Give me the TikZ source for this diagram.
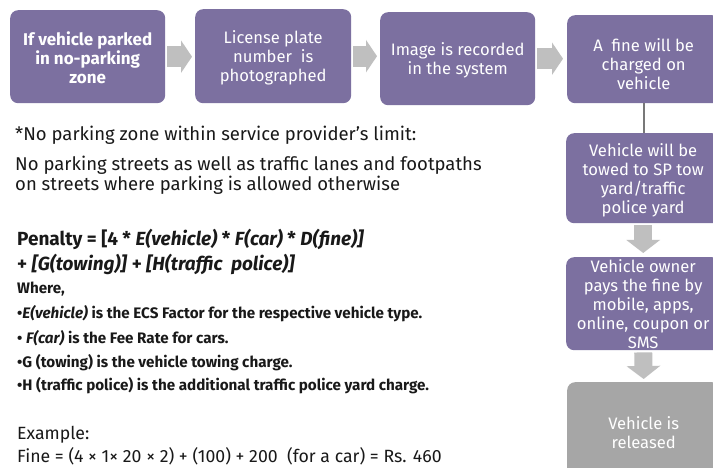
\documentclass[tikz,border=0pt]{standalone}
\usepackage{fontspec}
\setmainfont{Fira Sans}
\usetikzlibrary{arrows.meta}
\definecolor{boxpurple}{RGB}{124,112,160}
\definecolor{arrowgray}{RGB}{191,191,191}
\definecolor{boxgray}{RGB}{166,166,166}
\definecolor{linegray}{RGB}{120,120,120}
\definecolor{txt}{RGB}{25,25,25}
\begin{document}
\begin{tikzpicture}[x=1pt,y=-1pt,
  stepbox/.style={fill=boxpurple, rounded corners=8pt, anchor=north west, inner sep=0pt,
    text=white, align=center, font=\fontsize{16.6}{19}\selectfont},
  endbox/.style={stepbox, fill=boxgray},
  harrow/.style={draw=arrowgray, line width=21pt, -{Triangle[length=11pt,width=32pt]}},
  varrow/.style={draw=arrowgray, line width=18pt, -{Triangle[length=13pt,width=33pt]}},
  link/.style={draw=linegray, line width=2pt},
  para/.style={anchor=base west, inner sep=0pt, text=txt, font=\fontsize{18.5}{20}\selectfont},
  formula/.style={anchor=base west, inner sep=0pt, text=txt, font=\fontsize{19}{21}\selectfont\bfseries},
  bullet/.style={anchor=base west, inner sep=0pt, text=txt, font=\fontsize{15.2}{17}\selectfont\bfseries},
  example/.style={anchor=base west, inner sep=0pt, text=txt, font=\fontsize{17.7}{20}\selectfont}
]
\useasboundingbox (0,0) rectangle (713,468);
\clip (0,0) rectangle (713,468);
\fill[white] (0,0) rectangle (713,468);

% top row
\node[stepbox, minimum width=155pt, minimum height=93pt] (b1) at (10,10)
  {\rule{0pt}{16pt}\fontsize{17}{19}\selectfont\bfseries If vehicle parked\\\fontsize{17}{19}\selectfont\bfseries in no-parking\\\fontsize{17}{19}\selectfont\bfseries zone};
\node[stepbox, minimum width=156pt, minimum height=94pt] (b2) at (195,9)
  {\rule{0pt}{16pt}License plate\\number\ \ is\\photographed};
\node[stepbox, minimum width=155pt, minimum height=93pt] (b3) at (380,12)
  {\rule{0pt}{16pt}Image is recorded\\in the system};
\node[stepbox, minimum width=153pt, minimum height=88pt] (b4) at (567,15)
  {\rule{0pt}{23pt}A\ \ fine will be\\charged on\\vehicle};

% right column
\node[stepbox, minimum width=154pt, minimum height=90pt] (b5) at (566,133)
  {\rule{0pt}{17pt}Vehicle will be\\towed to SP tow\\yard/traffic\\police yard};
\node[stepbox, minimum width=154pt, minimum height=93pt] (b6) at (566,257)
  {Vehicle owner\\pays the fine by\\mobile, apps,\\online, coupon or\\SMS};
\node[endbox, minimum width=153pt, minimum height=100pt] (b7) at (567,382)
  {Vehicle is\\released};

% connectors
\draw[harrow, shorten <=2pt, shorten >=3pt] (b1.east) -- (b1.east -| b2.west);
\draw[harrow, shorten <=2pt, shorten >=3pt] (b2.east) -- (b2.east -| b3.west);
\draw[harrow, shorten <=2pt, shorten >=4pt] (b3.east) -- (b3.east -| b4.west);
\draw[link] (b4.south) -- (b4.south |- b5.north);
\draw[varrow, shorten <=2pt, shorten >=4pt] (b5.south) -- (b6.north);
\draw[varrow, shorten <=2pt, shorten >=3pt] (b6.south) -- (b7.north);

% text block
\node[para] (t1) at (15,141) {*No parking zone within service provider’s limit:};
\node[para] (t2) at (15,171) {No parking streets as well as traffic lanes and footpaths};
\node[para] (t3) at (15,191) {on streets where parking is allowed otherwise};

\node[formula] (f1) at (17,245) {Penalty = [4 * \textit{E(vehicle)} * \textit{F(car)} * \textit{D(fine)]}};
\node[formula] (f2) at (17,270) {+ \textit{[G(towing)]} + \textit{[H(traffic\ \ police)]}};
\node[bullet] (w0) at (17,294) {Where,};
\node[bullet] (w1) at (17,318) {•\textit{E(vehicle)} is the ECS Factor for the respective vehicle type.};
\node[bullet] (w2) at (17,343) {• \textit{F(car)} is the Fee Rate for cars.};
\node[bullet] (w3) at (17,367) {•G (towing) is the vehicle towing charge.};
\node[bullet] (w4) at (17,390) {•H (traffic police) is the additional traffic police yard charge.};

\node[example] (e1) at (17,439) {Example:};
\node[example] (e2) at (17,462) {Fine = (4 × 1× 20 × 2) + (100) + 200\ \ (for a car) = Rs. 460};
\end{tikzpicture}
\end{document}
